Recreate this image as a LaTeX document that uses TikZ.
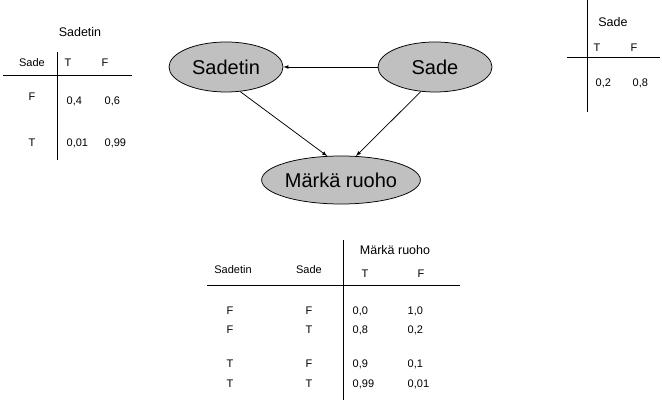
\documentclass[tikz,border=0pt]{standalone}
\usepackage{fontspec}
\setmainfont{Liberation Sans}
\tikzset{every picture/.style={line width=0.75pt}}
\tikzset{
  varnode/.style={ellipse,draw,fill={rgb,255:red,192;green,192;blue,192},font=\fontsize{20}{23}\selectfont,inner sep=0pt},
  tabtitle/.style={font=\fontsize{12.5}{14}\selectfont},
  tabtext/.style={font=\fontsize{11}{13}\selectfont,anchor=west},
  tabhead/.style={font=\fontsize{11}{13}\selectfont}
}
\usetikzlibrary{shapes.geometric}
\begin{document}
\begin{tikzpicture}[x=1pt,y=1pt,yscale=-1,xscale=1]
\useasboundingbox (0,0) rectangle (662,403);

%Ellipses
\node [varnode,minimum width=114,minimum height=50] (sadetin) at (226,67) {Sadetin};
\node [varnode,minimum width=114,minimum height=50] (sade) at (435,67) {Sade};
\node [varnode,minimum width=152,minimum height=48] (ruoho) at (341,180) {Märkä ruoho};

%Arrows
\draw [-latex] (sade.west) -- (sadetin.east) ;
\draw [-latex] (sadetin.-60) -- (ruoho.120) ;
\draw [-latex] (sade.-120) -- (ruoho.58) ;

%Table: Sadetin
\node [tabtitle] (tsadetin) at (80,32) {Sadetin};
\node [tabhead] (h1) at (32,63) {Sade};
\node [tabhead] (h2) at (68,63) {T};
\node [tabhead] (h3) at (105,63) {F};
\draw (3,75) -- (132,75) ;
\draw (57,52) -- (57,160) ;
\node [tabhead] (r1) at (32,97) {F};
\node [tabtext] (r1a) at (63,101) {0,4};
\node [tabtext] (r1b) at (101,101) {0,6};
\node [tabhead] (r2) at (32,143) {T};
\node [tabtext] (r2a) at (63,143) {0,01};
\node [tabtext] (r2b) at (101,143) {0,99};

%Table: Sade
\node [tabtitle] (tsade) at (613,22) {Sade};
\node [tabhead] (s1) at (597,48) {T};
\node [tabhead] (s2) at (634,48) {F};
\draw (567,57) -- (660,57) ;
\draw (587,0) -- (587,112) ;
\node [tabtext] (s1a) at (592,83) {0,2};
\node [tabtext] (s1b) at (629,83) {0,8};

%Table: Märkä ruoho
\node [tabtitle] (truoho) at (395,250) {Märkä ruoho};
\node [tabhead] (m1) at (233,270) {Sadetin};
\node [tabhead] (m2) at (309,270) {Sade};
\node [tabhead] (m3) at (365,274) {T};
\node [tabhead] (m4) at (421,274) {F};
\draw (207,285) -- (460,285) ;
\draw (343,240) -- (343,400) ;
\foreach \y/\a/\b/\p/\q [count=\i] in {311/F/F/{0,0}/{1,0}, 330/F/T/{0,8}/{0,2}, 364/T/F/{0,9}/{0,1}, 384/T/T/{0,99}/{0,01}} {
  \node [tabhead] (ra\i) at (230,\y) {\a};
  \node [tabhead] (rb\i) at (309,\y) {\b};
  \node [tabtext] (rc\i) at (349,\y) {\p};
  \node [tabtext] (rd\i) at (404,\y) {\q};
}
\end{tikzpicture}
\end{document}
